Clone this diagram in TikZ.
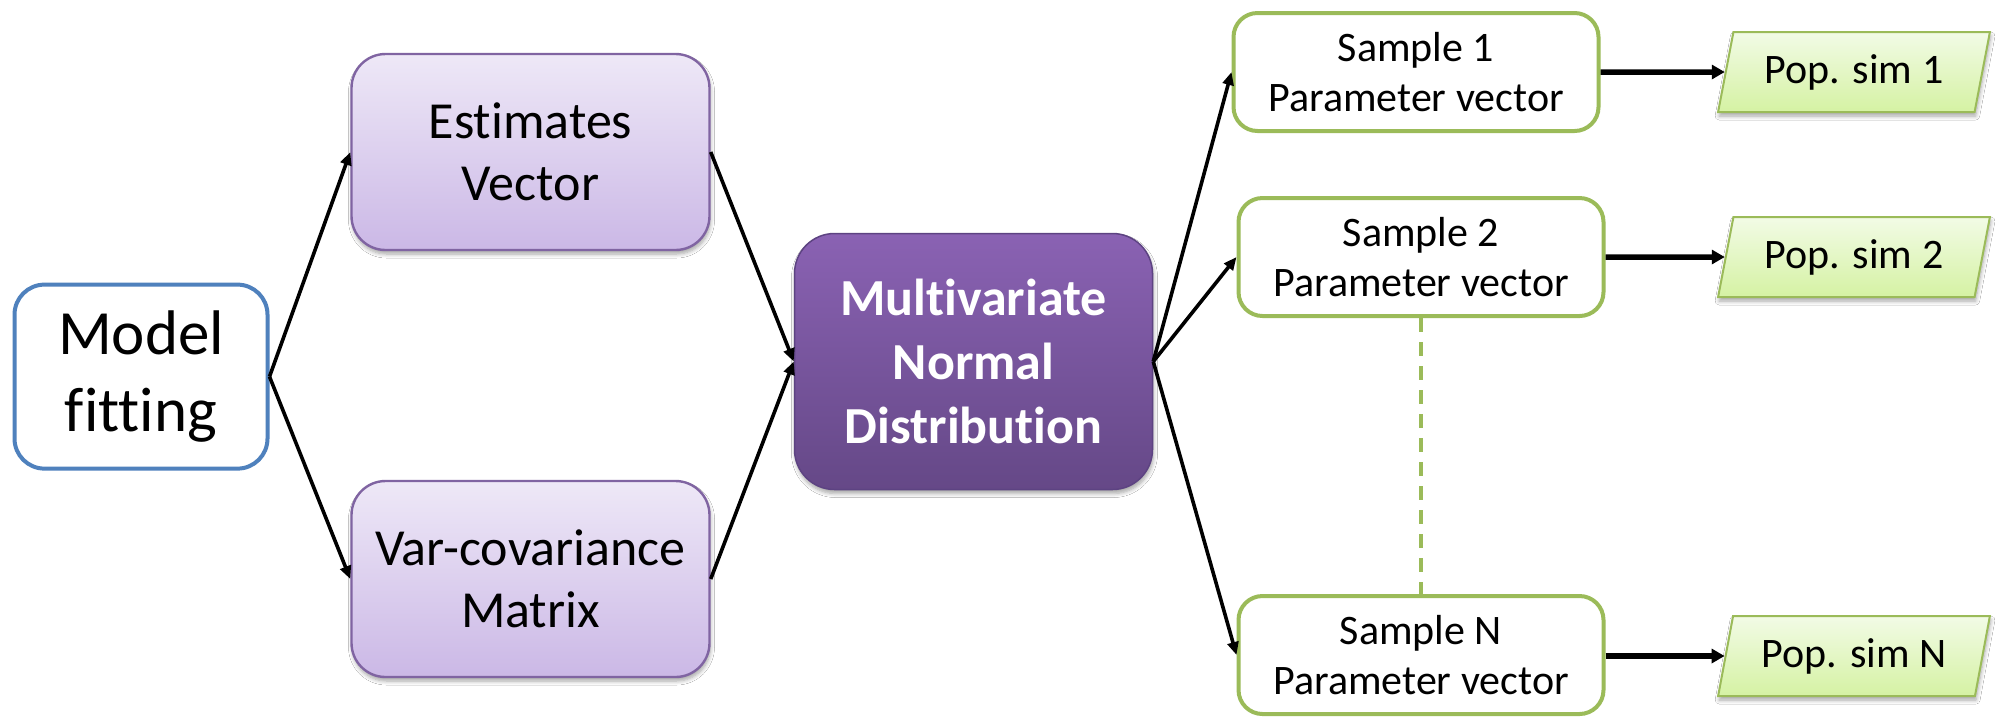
\documentclass[tikz,border=0pt]{standalone}
\usepackage{fontspec}
\setmainfont{Carlito}[Ligatures=NoCommon]
\usetikzlibrary{arrows.meta,shapes.geometric,shadows.blur}

\definecolor{bluebd}{HTML}{4F81BD}
\definecolor{purpbd}{HTML}{8064A2}
\definecolor{purptop}{HTML}{EEE8F7}
\definecolor{purpbot}{HTML}{CBB8E6}
\definecolor{mvntop}{HTML}{8A62B3}
\definecolor{mvnbot}{HTML}{654887}
\definecolor{mvnbd}{HTML}{5D4382}
\definecolor{greenbd}{HTML}{9BBB59}
\definecolor{greentop}{HTML}{F2FBE6}
\definecolor{greenbot}{HTML}{D5F2A3}

\begin{document}
\begin{tikzpicture}[x=0.5pt,y=-0.5pt,
  softshadow/.style={blur shadow={shadow xshift=0.5pt,shadow yshift=-2pt,shadow blur radius=2pt,shadow blur steps=6,shadow opacity=35}},
  fitbox/.style={draw=bluebd,line width=2pt,fill=white,rounded corners=15pt,
    minimum width=126.5pt,minimum height=92pt,align=center,
    font=\fontsize{31.5}{38.5}\selectfont},
  lavbox/.style={draw=purpbd,line width=1.2pt,top color=purptop,bottom color=purpbot,
    rounded corners=17pt,minimum width=179pt,minimum height=98pt,align=center,
    font=\fontsize{26}{31}\selectfont,softshadow},
  mvnbox/.style={draw=mvnbd,line width=0.75pt,top color=mvntop,bottom color=mvnbot,
    rounded corners=20pt,minimum width=179pt,minimum height=128pt,align=center,
    text=white,font=\fontsize{26}{32}\selectfont\bfseries,softshadow},
  samplebox/.style={draw=greenbd,line width=2pt,fill=white,rounded corners=12pt,
    minimum width=182.5pt,minimum height=59pt,align=center,
    font=\fontsize{21}{25}\selectfont},
  popbox/.style={trapezium,trapezium left angle=76,trapezium right angle=104,
    trapezium stretches=true,draw=greenbd,line width=1pt,top color=greentop,
    bottom color=greenbot,minimum width=136pt,minimum height=40pt,
    font=\fontsize{21}{23.5}\selectfont,softshadow},
  link/.style={line width=1.8pt,-{Triangle[length=6.5pt,width=5.5pt]}},
  thicklink/.style={line width=2.75pt,-{Triangle[length=6.5pt,width=7pt]}},
  dots/.style={draw=greenbd,line width=2pt,dash pattern=on 7pt off 5pt}
]
\useasboundingbox (0,0) rectangle (1995,720);
\fill[white] (0,0) rectangle (1995,720);

% boxes
\node[fitbox] (fit) at (141,376.6) {Model\\fitting};
\node[lavbox] (est) at (530.5,152) {Estimates\\Vector};
\node[lavbox] (cov) at (530.5,579) {Var-covariance\\Matrix};
\node[mvnbox] (mvn) at (973.5,361.5) {Multivariate\\Normal\\Distribution};
\node[samplebox] (s1) at (1416,72) {Sample 1\\Parameter vector};
\node[samplebox] (s2) at (1421,257) {Sample 2\\Parameter vector};
\node[samplebox] (sn) at (1421,655) {Sample N\\Parameter vector};
\node[popbox] (p1) at (1854,72) {Pop. sim 1};
\node[popbox] (p2) at (1854,257) {Pop. sim 2};
\node[popbox] (pn) at (1854,656) {Pop. sim N};

% connectors
\draw[link] (fit.east) -- (est.west);
\draw[link] (fit.east) -- (cov.west);
\draw[link] (est.east) -- (mvn.west);
\draw[link] (cov.east) -- (mvn.west);
\draw[link] (mvn.east) -- (s1.west);
\draw[link] (mvn.east) -- (s2.west);
\draw[link] (mvn.east) -- (sn.west);
\draw[thicklink] (s1.east) -- (p1.west);
\draw[thicklink] (s2.east) -- (p2.west);
\draw[thicklink] (sn.east |- pn.west) -- (pn.west);
\draw[dots] (s2.south) -- (sn.north);
\end{tikzpicture}
\end{document}
